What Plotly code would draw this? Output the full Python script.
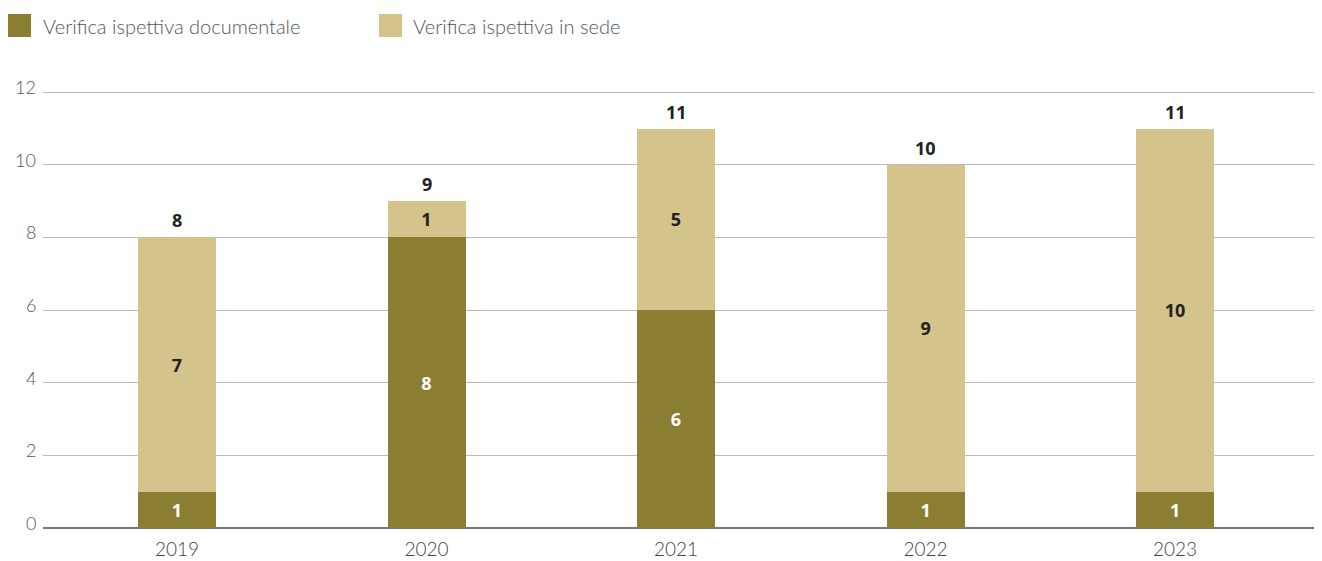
import plotly.graph_objects as go

years = ["2019", "2020", "2021", "2022", "2023"]
documentale = [1, 8, 6, 1, 1]
in_sede = [7, 1, 5, 9, 10]
totals = [d + s for d, s in zip(documentale, in_sede)]
series_names = ["Verifica ispettiva documentale", "Verifica ispettiva in sede"]
y_ticks = [0, 2, 4, 6, 8, 10, 12]

dark = "#8B7D32"
light = "#D4C48C"
bold_font = "Open Sans"
light_font = "Lato"

W, H = 1314, 553
L, R, T, B = 35, 0, 82, 33
PW, PH = W - L - R, H - T - B

def px(fx):
    return (fx - L) / PW

def py(fy):
    return (H - B - fy) / PH

fig = go.Figure()
fig.add_trace(go.Bar(
    x=years, y=documentale, name=series_names[0],
    marker=dict(color=dark, line=dict(width=0)), width=0.3126,
    text=documentale, textposition="inside", insidetextanchor="middle",
    textfont=dict(family=bold_font, size=18, color="white", weight="bold"),
    textangle=0, showlegend=False,
))
fig.add_trace(go.Bar(
    x=years, y=in_sede, name=series_names[1],
    marker=dict(color=light, line=dict(width=0)), width=0.3126,
    text=in_sede, textposition="inside", insidetextanchor="middle",
    textfont=dict(family=bold_font, size=18, color="#222222", weight="bold"),
    textangle=0, showlegend=False,
))

annotations = []
for i, t in enumerate(totals):
    annotations.append(dict(
        x=i, y=t, xref="x", yref="y", text=str(t), showarrow=False,
        yanchor="bottom", yshift=3,
        font=dict(family=bold_font, size=18, color="#222222", weight="bold"),
    ))

# y tick labels, raised slightly above their grid lines
for v in y_ticks:
    annotations.append(dict(
        x=px(30), y=v, xref="paper", yref="y", text=str(v), showarrow=False,
        xanchor="right", yanchor="middle", yshift=5,
        font=dict(family=light_font, size=18, color="#555555", weight=300),
    ))

# custom legend (page coords minus body offset)
shapes = []
legend_items = [(0, 23, 33, dark), (371, 394, 403, light)]
for name, (sx0, sx1, tx, col) in zip(series_names, legend_items):
    shapes.append(dict(type="rect", xref="paper", yref="paper",
                       x0=px(sx0), x1=px(sx1), y0=py(29), y1=py(6),
                       fillcolor=col, line=dict(width=0)))
    annotations.append(dict(
        x=px(tx), y=py(18), xref="paper", yref="paper", text=name,
        showarrow=False, xanchor="left", yanchor="middle",
        font=dict(family=light_font, size=20, color="#555555", weight=300),
    ))

fig.update_layout(
    barmode="stack",
    width=W, height=H,
    margin=dict(l=L, r=R, t=T, b=B),
    plot_bgcolor="white", paper_bgcolor="white",
    uniformtext=dict(minsize=10, mode="show"),
    font=dict(family=light_font, color="#555555"),
    showlegend=False,
    annotations=annotations,
    shapes=shapes,
    xaxis=dict(
        type="category", range=[-0.537, 4.589],
        showgrid=False, ticks="", showline=False,
        ticklabelstandoff=8,
        tickfont=dict(family=light_font, size=19, color="#444444", weight=300),
    ),
    yaxis=dict(
        range=[0, 12.06], tickvals=y_ticks, showticklabels=False,
        showgrid=True, gridcolor="#BBBBBB", gridwidth=1,
        zeroline=True, zerolinecolor="#777777", zerolinewidth=2,
        ticks="",
    ),
)

fig.write_html("out.html")
